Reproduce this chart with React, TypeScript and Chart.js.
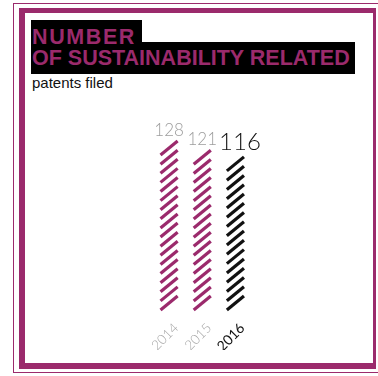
import React, { useEffect, useRef } from "react";
import { Chart, registerables } from "chart.js";

Chart.register(...registerables);

// ---- data ----
const years = ["2014", "2015", "2016"];
const patents = [128, 121, 116];
const barColors = ["#9b2a6c", "#9b2a6c", "#111111"];
const valueColors = ["#9d9d9d", "#9d9d9d", "#111111"];
const tickColors = ["#a5a5a5", "#a5a5a5", "#111111"];
const titleLine1 = "NUMBER";
const titleLine2 = "OF SUSTAINABILITY RELATED";
const subtitle = "patents filed";

const MAG = "#9b2a6c";

const hatchPlugin = {
  id: "hatchBars",
  afterDatasetsDraw(chart: any) {
    const ctx = chart.ctx;
    const meta = chart.getDatasetMeta(0);
    meta.data.forEach((bar: any, i: number) => {
      const { x, y, base, width } = bar.getProps(["x", "y", "base", "width"], true);
      const left = x - width / 2;
      const right = x + width / 2;
      const rise = 14;
      const period = 9;
      const h = base - y;
      const n = Math.max(2, Math.round((h - rise) / period) + 1);
      const p = (h - rise) / (n - 1);
      ctx.save();
      ctx.strokeStyle = barColors[i];
      ctx.lineWidth = 3.2;
      ctx.lineCap = "butt";
      for (let k = 0; k < n; k++) {
        const y0 = base - k * p;
        ctx.beginPath();
        ctx.moveTo(left, y0);
        ctx.lineTo(right, y0 - rise);
        ctx.stroke();
      }
      const big = i === patents.length - 1;
      ctx.fillStyle = valueColors[i];
      ctx.font = big ? "300 24px Lato, sans-serif" : "300 17px Lato, sans-serif";
      ctx.textAlign = "center";
      ctx.textBaseline = "alphabetic";
      ctx.fillText(String(patents[i]), x + (big ? 4.5 : 0), y - (big ? 7 : 5));
      ctx.restore();
    });
  },
};

function PatentChart() {
  const ref = useRef<HTMLCanvasElement | null>(null);
  useEffect(() => {
    if (!ref.current) return;
    const chart = new Chart(ref.current, {
      type: "bar",
      data: {
        labels: years,
        datasets: [
          {
            data: patents,
            backgroundColor: "rgba(0,0,0,0)",
            borderWidth: 0,
            barPercentage: 17 / 33,
            categoryPercentage: 1,
          },
        ],
      },
      options: {
        animation: false,
        responsive: false,
        devicePixelRatio: 1,
        layout: { padding: { left: 152.5, right: 126, top: 125.2, bottom: 26 } },
        plugins: { legend: { display: false }, tooltip: { enabled: false }, title: { display: false } },
        scales: {
          x: {
            grid: { display: false, drawTicks: false },
            border: { display: false },
            afterFit: (scale: any) => {
              scale.height = 40;
            },
            ticks: {
              minRotation: 45,
              maxRotation: 45,
              padding: 10,
              labelOffset: 7,
              color: (c: any) => tickColors[c.index] ?? "#999",
              font: (c: any) => ({
                family: "Lato, sans-serif",
                size: c.index === 2 ? 14 : 13.5,
                weight: c.index === 2 ? "normal" : "300",
              }),
            },
          },
          y: { display: false, min: 0, max: 140 },
        },
      },
      plugins: [hatchPlugin],
    });
    return () => chart.destroy();
  }, []);
  return (
    <canvas
      ref={ref}
      width={378}
      height={376}
      style={{ position: "absolute", left: 0, top: 0, width: 378, height: 376 }}
    />
  );
}

export default function App() {
  const titleFont = "'Liberation Sans', Arial, sans-serif";
  return (
    <div
      style={{
        position: "fixed",
        left: 0,
        top: 0,
        width: 378,
        height: 376,
        overflow: "hidden",
        background: "#ffffff",
      }}
    >
      <div
        style={{
          position: "absolute",
          left: 13,
          top: 3,
          width: 420,
          height: 370,
          border: `1px solid ${MAG}`,
          boxSizing: "border-box",
        }}
      />
      <div
        style={{
          position: "absolute",
          left: 19,
          top: 8,
          width: 357,
          height: 361,
          borderStyle: "solid",
          borderColor: MAG,
          borderWidth: "5px 3px 6px 6px",
          boxSizing: "border-box",
        }}
      />
      <div style={{ position: "absolute", left: 31, top: 20, width: 111, height: 24, background: "#000" }} />
      <div style={{ position: "absolute", left: 31, top: 42, width: 324, height: 32, background: "#000" }} />
      <div
        style={{
          position: "absolute",
          left: 32,
          top: 27,
          font: `bold 21.5px ${titleFont}`,
          lineHeight: "21px",
          letterSpacing: "1.6px",
          color: MAG,
          whiteSpace: "nowrap",
        }}
      >
        {titleLine1}
      </div>
      <div
        style={{
          position: "absolute",
          left: 32,
          top: 48,
          font: `bold 21.5px ${titleFont}`,
          lineHeight: "21px",
          color: MAG,
          whiteSpace: "nowrap",
        }}
      >
        {titleLine2}
      </div>
      <div
        style={{
          position: "absolute",
          left: 32,
          top: 75,
          font: `15px ${titleFont}`,
          lineHeight: "15px",
          color: "#111",
          whiteSpace: "nowrap",
        }}
      >
        {subtitle}
      </div>
      <PatentChart />
    </div>
  );
}
